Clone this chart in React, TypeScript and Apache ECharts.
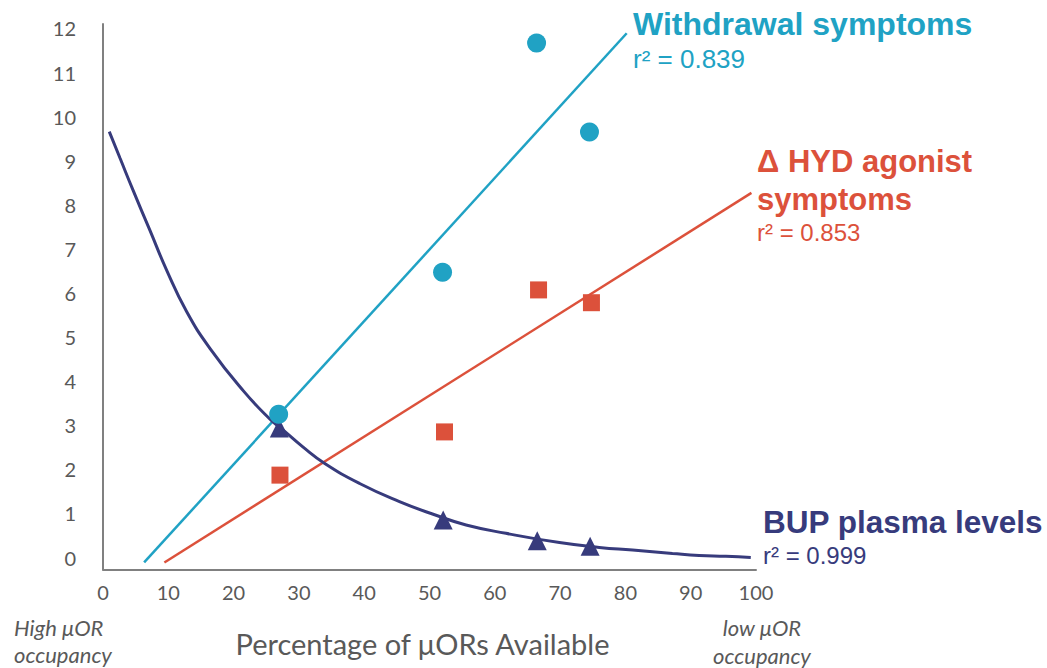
import React, { useEffect, useRef } from "react";
import * as echarts from "echarts";

// Scatter points
const withdrawalX = [26.9, 52.0, 66.4, 74.5];
const withdrawalY = [3.25, 6.47, 11.67, 9.65];
const hydX = [27.1, 52.3, 66.7, 74.8];
const hydY = [1.87, 2.85, 6.07, 5.78];
const bupX = [27.0, 52.1, 66.5, 74.6];
const bupY = [2.94, 0.85, 0.38, 0.26];

// Trend lines (end points)
const withdrawalTrendX = [6.3, 80.2];
const withdrawalTrendY = [-0.11, 11.89];
const hydTrendX = [9.4, 99.3];
const hydTrendY = [-0.11, 8.27];

// BUP trend curve
const bupCurveX = [0.96, 2.6, 4.63, 7.19, 9.74, 12.8, 16.4, 21.5, 25.5, 27.6, 30.6, 33.9, 39.3, 45.4, 51.0, 55.6, 61.7, 69.9, 76.0, 81.1, 87.2, 91.3, 95.4, 99.2];
const bupCurveY = [9.66, 9.06, 8.32, 7.42, 6.52, 5.58, 4.74, 3.78, 3.15, 2.89, 2.51, 2.14, 1.68, 1.27, 0.96, 0.74, 0.55, 0.34, 0.23, 0.17, 0.095, 0.05, 0.03, 0.0];

const yTicks = [0, 1, 2, 3, 4, 5, 6, 7, 8, 9, 10, 11, 12];

const CYAN = "#20a2c4";
const RED = "#dc513b";
const NAVY = "#373b7c";
const GRAY_TEXT = "#595959";
const AXIS_GRAY = "#808080";

const zip = (xs: number[], ys: number[]) => xs.map((x, i) => [x, ys[i]]);

export default function App() {
  const ref = useRef<HTMLDivElement>(null);
  useEffect(() => {
    if (!ref.current) return;
    const chart = echarts.init(ref.current, undefined, { renderer: "svg" });
    const sans = "'Liberation Sans', Arial, sans-serif";
    const cal = "Lato, 'Open Sans', sans-serif";
    chart.setOption({
      animation: false,
      backgroundColor: "#ffffff",
      grid: { left: 103, right: 291, top: 24, bottom: 98.5, containLabel: false, outerBoundsMode: "none" },
      xAxis: {
        type: "value",
        min: 0,
        max: 100,
        interval: 10,
        axisLine: { show: true, onZero: false, lineStyle: { color: AXIS_GRAY, width: 2 } },
        axisTick: { show: false },
        splitLine: { show: false },
        axisLabel: { color: GRAY_TEXT, fontFamily: cal, fontSize: 20, margin: 12 },
      },
      yAxis: {
        type: "value",
        min: -0.27,
        max: 12.1,
        axisLine: { show: true, onZero: false, lineStyle: { color: AXIS_GRAY, width: 2 } },
        axisTick: { show: false },
        splitLine: { show: false },
        axisLabel: { color: GRAY_TEXT, fontFamily: cal, fontSize: 20, margin: 27, customValues: yTicks },
      },
      series: [
        {
          type: "line",
          data: zip(withdrawalTrendX, withdrawalTrendY),
          symbol: "none",
          lineStyle: { color: CYAN, width: 2.5 },
          z: 2,
        },
        {
          type: "line",
          data: zip(hydTrendX, hydTrendY),
          symbol: "none",
          lineStyle: { color: RED, width: 2.5 },
          z: 2,
        },
        {
          type: "line",
          data: zip(bupCurveX, bupCurveY),
          symbol: "none",
          smooth: 0.5,
          lineStyle: { color: NAVY, width: 3 },
          z: 2,
        },
        {
          type: "scatter",
          data: zip(bupX, bupY),
          symbol: "triangle",
          symbolSize: 19,
          itemStyle: { color: NAVY, opacity: 1 },
          z: 3,
        },
        {
          type: "scatter",
          data: zip(hydX, hydY),
          symbol: "rect",
          symbolSize: 17,
          itemStyle: { color: RED, opacity: 1 },
          z: 3,
        },
        {
          type: "scatter",
          data: zip(withdrawalX, withdrawalY),
          symbol: "circle",
          symbolSize: 19,
          itemStyle: { color: CYAN, opacity: 1 },
          z: 4,
        },
      ],
      graphic: [
        { type: "text", x: 633, y: 24, style: { text: "Withdrawal symptoms", fill: CYAN, font: `bold 32px ${sans}`, verticalAlign: "middle" } },
        { type: "text", x: 633, y: 59, style: { text: "r² = 0.839", fill: CYAN, font: `26px ${sans}`, verticalAlign: "middle" } },
        { type: "text", x: 757, y: 161, style: { text: "Δ HYD agonist", fill: RED, font: `bold 31px ${sans}`, verticalAlign: "middle" } },
        { type: "text", x: 757, y: 199.6, style: { text: "symptoms", fill: RED, font: `bold 31px ${sans}`, verticalAlign: "middle" } },
        { type: "text", x: 757, y: 232.6, style: { text: "r² = 0.853", fill: RED, font: `24px ${sans}`, verticalAlign: "middle" } },
        { type: "text", x: 763, y: 521.8, style: { text: "BUP plasma levels", fill: NAVY, font: `bold 31.5px ${sans}`, verticalAlign: "middle" } },
        { type: "text", x: 763, y: 555, style: { text: "r² = 0.999", fill: NAVY, font: `24px ${sans}`, verticalAlign: "middle" } },
        { type: "text", x: 422.5, y: 643, style: { text: "Percentage of μORs Available", fill: GRAY_TEXT, font: `29px ${cal}`, align: "center", verticalAlign: "middle" } },
        { type: "text", x: 14, y: 627, style: { text: "High μOR", fill: GRAY_TEXT, font: `italic 22px ${cal}`, verticalAlign: "middle" } },
        { type: "text", x: 14, y: 654, style: { text: "occupancy", fill: GRAY_TEXT, font: `italic 22px ${cal}`, verticalAlign: "middle" } },
        { type: "text", x: 762, y: 627, style: { text: "low μOR", fill: GRAY_TEXT, font: `italic 22px ${cal}`, align: "center", verticalAlign: "middle" } },
        { type: "text", x: 762, y: 655, style: { text: "occupancy", fill: GRAY_TEXT, font: `italic 22px ${cal}`, align: "center", verticalAlign: "middle" } },
      ],
    });
    return () => chart.dispose();
  }, []);
  return <div ref={ref} style={{ position: "fixed", left: 0, top: 0, width: 1047, height: 668 }} />;
}
